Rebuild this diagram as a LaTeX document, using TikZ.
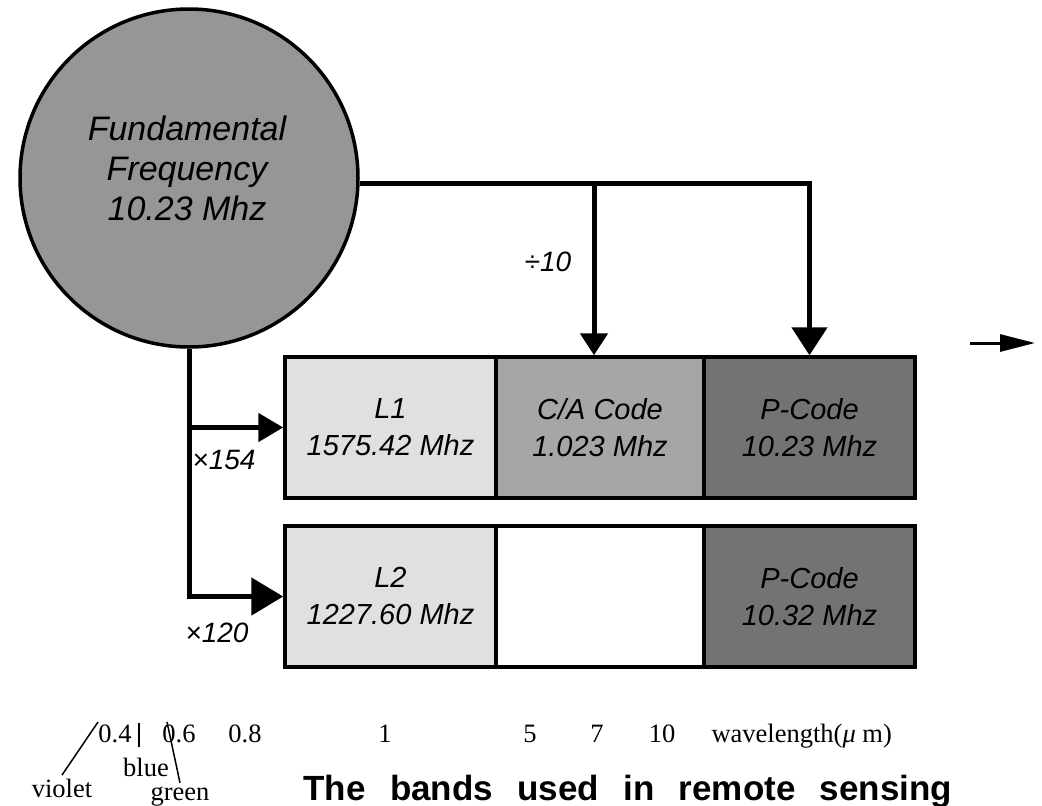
\documentclass[tikz,border=0pt]{standalone}
\usepackage{fontspec}
\setmainfont{Liberation Sans}
\newfontfamily\serifnums{Liberation Serif}
\newfontfamily\titlefont[WordSpace=2.5]{Liberation Sans}
\usetikzlibrary{arrows.meta}
\usetikzlibrary{positioning}

\definecolor{fundgray}{RGB}{150,150,150}
\definecolor{carriergray}{RGB}{224,224,224}
\definecolor{cagray}{RGB}{166,166,166}
\definecolor{pgray}{RGB}{115,115,115}

\tikzset{
  band/.style={rectangle,draw=black,line width=3.5pt,minimum width=211pt,minimum height=141pt,inner sep=0pt,align=center,font=\fontsize{29}{37}\selectfont\itshape},
  wire/.style={line width=5pt},
  factor/.style={font=\fontsize{28}{32}\selectfont\itshape},
  tick/.style={anchor=base,font=\serifnums\fontsize{26.5}{30}\selectfont},
  pointer/.style={line width=1.5pt},
}

\begin{document}
\begin{tikzpicture}[x=1pt,y=-1pt]
\useasboundingbox (0,0) rectangle (1042,806);
% oscillator
\node at (189,178)[circle,draw=black,line width=3.5pt,fill=fundgray,minimum size=338pt,inner sep=0pt](fund){};
\node at (187,168)[align=center,font=\fontsize{34}{40}\selectfont\itshape](fundtext){Fundamental\\Frequency\\10.23 Mhz};
% signal components
\node at (390.5,427.5)[band,fill=carriergray](l1){L1\\1575.42 Mhz};
\node at (600,427.5)[band,fill=cagray,minimum width=208pt](ca){C/A Code\\1.023 Mhz};
\node at (809.5,427.5)[band,fill=pgray](p1){P-Code\\10.23 Mhz};
\node at (390.5,596.5)[band,fill=carriergray](l2){L2\\1227.60 Mhz};
\node at (600,596.5)[band,fill=white,minimum width=208pt](blank){};
\node at (809.5,596.5)[band,fill=pgray](p2){P-Code\\10.32 Mhz};
% connections
\coordinate (cain) at ([xshift=-6pt]ca.north);
\draw[wire,-{Triangle[length=28pt,width=35pt]}] (fund.-2) -| (p1.north);
\draw[wire,-{Triangle[length=22pt,width=27pt]}] (cain |- fund.-2) -- (cain);
\draw[wire,-{Triangle[length=32pt,width=37pt]}] (fund.south) |- (l2.west);
\draw[wire,-{Triangle[length=25pt,width=28pt]}] (fund.south |- l1.west) -- (l1.west);
\node at (548,262)[factor](div10){÷10};
\node at (224,460)[factor](x154){×154};
\node at (217,633)[factor](x120){×120};
% lone arrow
\coordinate (rs) at (970,343);
\coordinate (re) at (1035,343);
\draw[line width=3pt,-{Triangle[length=35pt,width=17pt]}] (rs) -- (re);
% wavelength scale
\node at (115,742)[tick](w04){0.4};
\node at (179,742)[tick](w06){0.6};
\node at (245,742)[tick](w08){0.8};
\node at (385,742)[tick](w1){1};
\node at (530,742)[tick](w5){5};
\node at (597,742)[tick](w7){7};
\node at (662,742)[tick](w10){10};
\node at (708,742)[tick,anchor=base west](wl){wavelength(\textit{μ} m)};
\node at (62,797)[tick](violet){violet};
\node at (146,776)[tick](blue){blue};
\node at (180,800)[tick](green){green};
\coordinate (vtop) at (98,722);
\coordinate (btop) at (139,723);
\coordinate (bbot) at (139,747);
\coordinate (gtop) at (167,722);
\draw[pointer] (violet.north) -- (vtop);
\draw[pointer] (btop) -- (bbot);
\draw[pointer] (green.north) -- (gtop);
\node at (300,800)[anchor=base west,font=\titlefont\bfseries\fontsize{35}{40}\selectfont](title){The bands used in remote sensing};
\end{tikzpicture}
\end{document}
